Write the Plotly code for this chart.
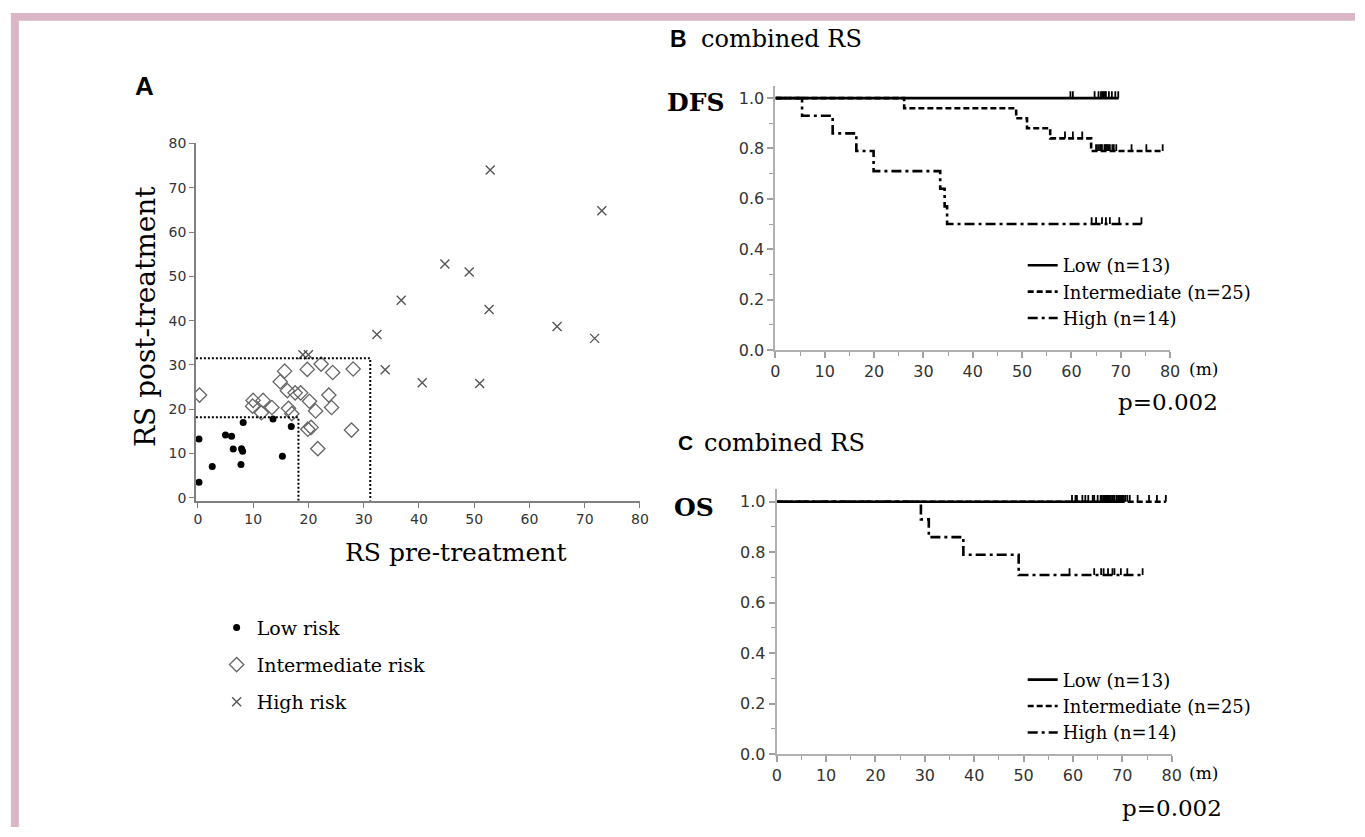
import plotly.graph_objects as go

W, H = 1365, 837

# ---------------- Panel A : RS pre vs post treatment ----------------
low_pre = [0.2, 0.2, 2.6, 5.0, 6.1, 6.4, 7.9, 8.1, 7.8, 8.2, 13.6, 15.3, 16.9]
low_post = [13.3, 3.5, 7.1, 14.2, 13.9, 11.0, 11.1, 10.5, 7.5, 17.0, 17.8, 9.4, 16.1]
int_pre = [0.3, 10.0, 9.9, 11.8, 11.5, 13.4, 14.9, 15.7, 16.2, 16.4, 17.0, 17.6, 18.6,
           19.8, 20.2, 19.9, 20.5, 21.3, 21.7, 22.3, 23.7, 24.2, 24.4, 27.8, 28.1]
int_post = [23.2, 22.0, 20.7, 22.0, 19.2, 20.4, 26.2, 28.6, 24.2, 20.2, 19.0, 23.7, 23.7,
            29.0, 21.8, 15.5, 15.9, 19.6, 11.1, 30.2, 23.2, 20.4, 28.3, 15.3, 29.1]
high_pre = [19.0, 20.0, 32.4, 33.9, 36.8, 40.6, 44.7, 49.1, 52.9, 52.7, 51.0, 65.0, 71.8, 73.1]
high_post = [32.3, 32.3, 36.9, 28.9, 44.6, 26.0, 52.8, 51.0, 74.0, 42.5, 25.8, 38.7, 36.0, 64.8]
cut_pre = [18.2, 31.2]
cut_post = [18.2, 31.5]
scatter_ticks = [0, 10, 20, 30, 40, 50, 60, 70, 80]

# ---------------- Panels B / C : Kaplan-Meier ----------------
groups = ["Low (n=13)", "Intermediate (n=25)", "High (n=14)"]

# DFS
dfs_low_ev_t, dfs_low_ev_s = [], []
dfs_low_cens = [59.8, 60.3, 64.7, 65.5, 66.0, 66.3, 66.5, 66.8, 67.0, 67.6, 68.2, 68.9, 69.5]
dfs_low_end = 69.6

dfs_int_ev_t = [26.1, 48.8, 51.0, 55.7, 64.0]
dfs_int_ev_s = [0.96, 0.92, 0.88, 0.84, 0.79]
dfs_int_cens = [58.7, 60.3, 62.2, 65.0, 65.4, 65.8, 66.0, 66.2, 66.7, 66.9, 67.1, 67.3,
                67.5, 67.8, 68.3, 68.6, 69.1, 72.2, 75.2, 78.5]
dfs_int_end = 78.7

dfs_high_ev_t = [5.4, 11.6, 16.4, 19.9, 33.4, 34.3, 34.8]
dfs_high_ev_s = [0.93, 0.86, 0.79, 0.71, 0.64, 0.57, 0.50]
dfs_high_cens = [64.1, 65.0, 66.2, 67.0, 67.8, 69.7, 74.2]
dfs_high_end = 74.2

# OS
os_low_ev_t, os_low_ev_s = [], []
os_low_cens = [59.8, 60.8, 61.9, 63.1, 64.3, 65.6, 66.1, 66.5, 66.8, 67.4, 68.1, 68.8, 69.6]
os_low_end = 69.6

os_int_ev_t, os_int_ev_s = [], []
os_int_cens = [60.5, 62.5, 64.0, 65.0, 65.8, 66.3, 66.6, 67.0, 67.2, 67.7, 68.0, 68.4,
               68.9, 69.2, 69.5, 69.8, 70.0, 70.3, 70.6, 71.0, 71.5, 73.1, 75.4, 77.0, 78.8]
os_int_end = 78.8

os_high_ev_t = [29.2, 30.8, 37.8, 49.0]
os_high_ev_s = [0.93, 0.86, 0.79, 0.71]
os_high_cens = [59.3, 64.3, 65.7, 66.2, 67.1, 68.0, 68.4, 69.7, 71.0, 74.1]
os_high_end = 74.1

km_xticks = [0, 10, 20, 30, 40, 50, 60, 70, 80]
km_yticks = [0.0, 0.2, 0.4, 0.6, 0.8, 1.0]


def px(xp):
    return xp / W


def py(yp):
    return 1 - yp / H


def km_xy(ev_t, ev_s, end):
    xs = [0.0] + list(ev_t) + [end]
    last = ev_s[-1] if ev_s else 1.0
    ys = [1.0] + list(ev_s) + [last]
    return xs, ys


def surv_at(t, ev_t, ev_s):
    s = 1.0
    for et, es in zip(ev_t, ev_s):
        if t >= et:
            s = es
    return s


def cens_marks(cens, ev_t, ev_s, h=0.027):
    xs, ys = [], []
    for c in cens:
        s = surv_at(c, ev_t, ev_s)
        xs += [c, c, None]
        ys += [s, s + h, None]
    return xs, ys


fig = go.Figure()

SERIF = "DejaVu Serif"
SANS = "DejaVu Sans"

# --- scatter ---
fig.add_trace(go.Scatter(x=low_pre, y=low_post, mode="markers", name="Low risk",
                         marker=dict(symbol="circle", size=7, color="black"),
                         xaxis="x", yaxis="y", legend="legend", legendgroup="a1"))
fig.add_trace(go.Scatter(x=int_pre, y=int_post, mode="markers", name="Intermediate risk",
                         marker=dict(symbol="diamond-open", size=11, color="#666666",
                                     line=dict(width=1.3, color="#666666")),
                         xaxis="x", yaxis="y", legend="legend", legendgroup="a2"))
fig.add_trace(go.Scatter(x=high_pre, y=high_post, mode="markers", name="High risk",
                         marker=dict(symbol="x-thin", size=9, color="#555555",
                                     line=dict(width=1.4, color="#555555")),
                         xaxis="x", yaxis="y", legend="legend", legendgroup="a3"))

sx_rng = [-0.36, 80.0]
sy_rng = [-0.66, 80.18]
for cx, cy in zip(cut_pre, cut_post):
    fig.add_trace(go.Scatter(x=[sx_rng[0], cx, cx], y=[cy, cy, sy_rng[0]], mode="lines",
                             line=dict(color="black", width=2, dash="2px,2px"),
                             showlegend=False, hoverinfo="skip", xaxis="x", yaxis="y"))

# --- KM curves ---
dash_styles = ["solid", "6px,3px", "10px,4px,3px,4px"]
dfs_sets = [(dfs_low_ev_t, dfs_low_ev_s, dfs_low_cens, dfs_low_end),
            (dfs_int_ev_t, dfs_int_ev_s, dfs_int_cens, dfs_int_end),
            (dfs_high_ev_t, dfs_high_ev_s, dfs_high_cens, dfs_high_end)]
os_sets = [(os_low_ev_t, os_low_ev_s, os_low_cens, os_low_end),
           (os_int_ev_t, os_int_ev_s, os_int_cens, os_int_end),
           (os_high_ev_t, os_high_ev_s, os_high_cens, os_high_end)]

for sets, xa, ya, lg in [(dfs_sets, "x2", "y2", "legend2"), (os_sets, "x3", "y3", "legend3")]:
    for i in [2, 1, 0]:
        ev_t, ev_s, cens, end = sets[i]
        cx, cy = cens_marks(cens, ev_t, ev_s)
        fig.add_trace(go.Scatter(x=cx, y=cy, mode="lines", line=dict(color="black", width=1.8),
                                 showlegend=False, hoverinfo="skip", xaxis=xa, yaxis=ya))
    for i in [0, 1, 2]:
        ev_t, ev_s, cens, end = sets[i]
        kx, ky = km_xy(ev_t, ev_s, end)
        fig.add_trace(go.Scatter(x=kx, y=ky, mode="lines", name=groups[i],
                                 line=dict(color="black", width=2.6, dash=dash_styles[i], shape="hv"),
                                 xaxis=xa, yaxis=ya, legend=lg))

# --- axes ---
tick_font_s = dict(family=SANS, size=14, color="#333333")
tick_font_k = dict(family=SANS, size=16, color="#333333")

layout = dict(
    width=W, height=H, margin=dict(l=0, r=0, t=0, b=0), autosize=False,
    paper_bgcolor="white", plot_bgcolor="white",
    xaxis=dict(domain=[px(193), px(642)], range=sx_rng, anchor="y", tickvals=scatter_ticks,
               showline=True, linecolor="#808080", linewidth=1.5, ticks="outside", ticklen=5,
               tickcolor="#808080", tickwidth=1.2, showgrid=False, zeroline=False,
               tickfont=tick_font_s),
    yaxis=dict(domain=[py(504), py(138.5)], range=sy_rng, anchor="x", tickvals=scatter_ticks,
               showline=True, linecolor="#808080", linewidth=1.5, ticks="outside", ticklen=5,
               tickcolor="#808080", tickwidth=1.2, showgrid=False, zeroline=False,
               tickfont=tick_font_s),
)

km_axes = {
    "2": dict(xd=[779, 1178], y0=350.0, y1=93.0),
    "3": dict(xd=[780.3, 1179.7], y0=762.7, y1=505.0),
}
for k, d in km_axes.items():
    per = d["y0"] - d["y1"]
    top = d["y0"] - 1.05 * per
    layout["xaxis" + k] = dict(domain=[px(d["xd"][0]), px(d["xd"][1])], range=[0, 80],
                               anchor="y" + k, tickvals=km_xticks, showline=True,
                               linecolor="#b0b0b0", linewidth=2, ticks="outside", ticklen=6,
                               tickcolor="#a0a0a0", tickwidth=1.5, showgrid=False, zeroline=False,
                               tickfont=tick_font_k,
                               minor=dict(dtick=5, tick0=0, ticks="outside", ticklen=4,
                                          tickcolor="#a0a0a0", tickwidth=1.2, showgrid=False))
    layout["yaxis" + k] = dict(domain=[py(d["y0"]), py(top)], range=[0, 1.05], anchor="x" + k,
                               tickvals=km_yticks, tickformat=".1f", showline=True,
                               linecolor="#b0b0b0", linewidth=2, ticks="outside", ticklen=6,
                               tickcolor="#a0a0a0", tickwidth=1.5, showgrid=False, zeroline=False,
                               tickfont=tick_font_k,
                               minor=dict(dtick=0.1, tick0=0, ticks="outside", ticklen=4,
                                          tickcolor="#a0a0a0", tickwidth=1.2, showgrid=False))

layout["legend"] = dict(x=px(214), y=py(614), xanchor="left", yanchor="top",
                        font=dict(family=SERIF, size=19, color="black"),
                        tracegroupgap=9.5, bgcolor="rgba(0,0,0,0)", itemwidth=30)
layout["legend2"] = dict(x=px(1029), y=py(245), xanchor="left", yanchor="top",
                         font=dict(family=SERIF, size=18, color="black"),
                         bgcolor="rgba(0,0,0,0)", itemwidth=30)
layout["legend3"] = dict(x=px(1029), y=py(668), xanchor="left", yanchor="top",
                         font=dict(family=SERIF, size=18, color="black"),
                         bgcolor="rgba(0,0,0,0)", itemwidth=30)

fig.update_layout(**layout)


def ann(text, x, y, size, family=SERIF, xanchor="center", yanchor="middle", bold=False, angle=0):
    t = "<b>" + text + "</b>" if bold else text
    fig.add_annotation(text=t, x=px(x), y=py(y), xref="paper", yref="paper", showarrow=False,
                       xanchor=xanchor, yanchor=yanchor, textangle=angle,
                       font=dict(family=family, size=size, color="black"))


ann("A", 141, 81, 26, family="Liberation Sans", bold=True)
ann("RS post-treatment", 142, 316, 28, angle=-90)
ann("RS pre-treatment", 455, 557, 25)

ann("B", 681, 33, 23, family="Liberation Sans", bold=True)
ann("combined RS", 702, 33, 24, xanchor="left")
ann("DFS", 698, 97, 25, bold=True)
ann("(m)", 1195, 370, 17, xanchor="left")
ann("p=0.002", 1228, 403, 23, xanchor="right")

ann("C", 688, 445, 21, family="Liberation Sans", bold=True)
ann("combined RS", 705, 445, 24, xanchor="left")
ann("OS", 697, 511, 25, bold=True)
ann("(m)", 1195, 782, 17, xanchor="left")
ann("p=0.002", 1233, 818, 23, xanchor="right")

# pink frame
pink = "#dab6c6"
fig.add_shape(type="rect", xref="paper", yref="paper", x0=px(6), x1=px(14), y0=0, y1=py(6),
              fillcolor=pink, line=dict(width=0), layer="below")
fig.add_shape(type="rect", xref="paper", yref="paper", x0=px(6), x1=1, y0=py(14), y1=py(6),
              fillcolor=pink, line=dict(width=0), layer="below")

fig.write_html("out.html", config={"displayModeBar": False},
               post_script="document.body.style.margin='0';document.body.style.padding='0';"
                           "document.body.style.overflow='hidden';")
